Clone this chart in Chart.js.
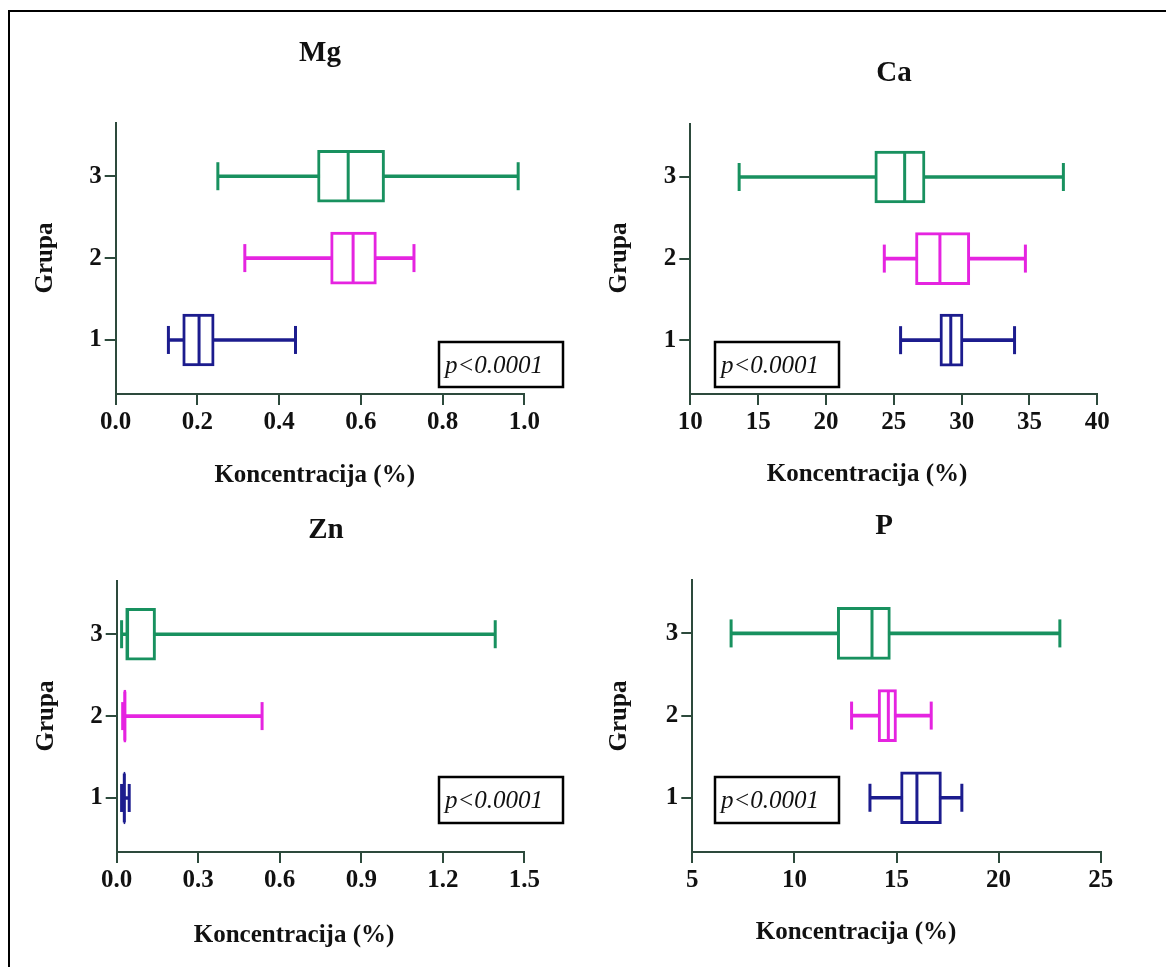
<!DOCTYPE html>
<html><head><meta charset="utf-8">
<script src="https://cdn.jsdelivr.net/npm/chart.js@4.4.0/dist/chart.umd.min.js"></script>
<style>
html,body{margin:0;padding:0;background:#fff;overflow:hidden;width:1166px;height:967px}
#frame{position:absolute;left:8px;top:10px;width:1300px;height:1100px;border-left:2.5px solid #000;border-top:2.5px solid #000}
canvas{position:absolute;left:0;top:0}
</style></head>
<body>
<div id="frame"></div>
<canvas id="c0" width="1166" height="967"></canvas>
<canvas id="c1" width="1166" height="967"></canvas>
<canvas id="c2" width="1166" height="967"></canvas>
<canvas id="c3" width="1166" height="967"></canvas>
<script>
// ---- data ----
const groups = [1, 2, 3];
const groupLabels = ['1', '2', '3'];

const mgMin = [0.129, 0.316, 0.250];
const mgQ1  = [0.164, 0.526, 0.494];
const mgMed = [0.204, 0.581, 0.569];
const mgQ3  = [0.241, 0.638, 0.658];
const mgMax = [0.440, 0.730, 0.985];
const mgTicks = [0, 0.2, 0.4, 0.6, 0.8, 1.0];
const mgTickLabels = ['0.0', '0.2', '0.4', '0.6', '0.8', '1.0'];

const caMin = [25.5, 24.3, 13.6];
const caQ1  = [28.4, 26.6, 23.6];
const caMed = [29.2, 28.4, 25.8];
const caQ3  = [30.1, 30.6, 27.3];
const caMax = [33.9, 34.7, 37.5];
const caTicks = [10, 15, 20, 25, 30, 35, 40];
const caTickLabels = ['10', '15', '20', '25', '30', '35', '40'];

const znMin = [0.018, 0.022, 0.018];
const znQ1  = [0.026, 0.026, 0.033];
const znMed = [0.028, 0.030, 0.040];
const znQ3  = [0.031, 0.034, 0.143];
const znMax = [0.046, 0.535, 1.393];
const znTicks = [0, 0.3, 0.6, 0.9, 1.2, 1.5];
const znTickLabels = ['0.0', '0.3', '0.6', '0.9', '1.2', '1.5'];

const pMin = [13.7, 12.8, 6.9];
const pQ1  = [15.2, 14.1, 12.1];
const pMed = [16.0, 14.6, 13.8];
const pQ3  = [17.2, 15.0, 14.7];
const pMax = [18.2, 16.7, 23.0];
const pTicks = [5, 10, 15, 20, 25];
const pTickLabels = ['5', '10', '15', '20', '25'];

const pValueText = 'p<0.0001';
const xTitleText = 'Koncentracija (%)';
const yTitleText = 'Grupa';

// ---- styles / layout ----
const W = 1166, H = 967;
const SERIF = '"Liberation Serif", "DejaVu Serif", serif';
const AXIS = '#2d4a3c';
const TXT = '#111';
const groupColors = ['#1c1c8e', '#e524e0', '#18915f'];
const BOX = 52, CAP = 14, LW = 3;

const panels = [
  {title:'Mg', min:mgMin, q1:mgQ1, med:mgMed, q3:mgQ3, max:mgMax, ticks:mgTicks, labels:mgTickLabels,
   area:{l:115.7, r:524.3, t:123, b:394}, titlePos:[320, 61], xTitlePos:[314.7, 482], yTitlePos:[46, 258], pBox:[439, 342, 124, 45]},
  {title:'Ca', min:caMin, q1:caQ1, med:caMed, q3:caQ3, max:caMax, ticks:caTicks, labels:caTickLabels,
   area:{l:690.3, r:1097.3, t:124, b:394}, titlePos:[894, 81], xTitlePos:[867, 481], yTitlePos:[620, 258], pBox:[715, 342, 124, 45]},
  {title:'Zn', min:znMin, q1:znQ1, med:znMed, q3:znQ3, max:znMax, ticks:znTicks, labels:znTickLabels,
   area:{l:116.7, r:524.3, t:581, b:852}, titlePos:[326, 538], xTitlePos:[294, 942], yTitlePos:[47, 716], pBox:[439, 777, 124, 46]},
  {title:'P', min:pMin, q1:pQ1, med:pMed, q3:pQ3, max:pMax, ticks:pTicks, labels:pTickLabels,
   area:{l:692.3, r:1100.7, t:580, b:852}, titlePos:[884, 534], xTitlePos:[856, 939], yTitlePos:[620, 716], pBox:[715, 777, 124, 46]}
];

function makeChart(canvas, p) {
  const AX = 60, XH = 60;
  const decor = {
    id: 'decor',
    afterDatasetsDraw(chart) {
      const ctx = chart.ctx, xs = chart.scales.x, ys = chart.scales.y;
      ctx.save();
      ctx.lineWidth = LW;
      ctx.lineCap = 'butt';
      groups.forEach((g, i) => {
        const yc = ys.getPixelForValue(g);
        ctx.strokeStyle = groupColors[i];
        [p.min[i], p.max[i]].forEach(v => {
          const x = xs.getPixelForValue(v);
          ctx.beginPath(); ctx.moveTo(x, yc - CAP); ctx.lineTo(x, yc + CAP); ctx.stroke();
        });
        const xm = xs.getPixelForValue(p.med[i]);
        ctx.beginPath(); ctx.moveTo(xm, yc - BOX / 2 + 1.5); ctx.lineTo(xm, yc + BOX / 2 - 1.5); ctx.stroke();
      });
      ctx.restore();
    },
    afterDraw(chart) {
      const ctx = chart.ctx;
      ctx.save();
      ctx.fillStyle = TXT;
      ctx.font = 'bold 29px ' + SERIF;
      ctx.textAlign = 'center'; ctx.textBaseline = 'alphabetic';
      ctx.fillText(p.title, p.titlePos[0], p.titlePos[1]);
      ctx.font = 'bold 25px ' + SERIF;
      ctx.fillText(xTitleText, p.xTitlePos[0], p.xTitlePos[1]);
      ctx.save();
      ctx.translate(p.yTitlePos[0], p.yTitlePos[1]);
      ctx.rotate(-Math.PI / 2);
      ctx.textBaseline = 'middle';
      ctx.fillText(yTitleText, 0, 0);
      ctx.restore();
      const [bx, by, bw, bh] = p.pBox;
      ctx.fillStyle = '#fff';
      ctx.fillRect(bx, by, bw, bh);
      ctx.strokeStyle = '#000'; ctx.lineWidth = 2.5;
      ctx.strokeRect(bx, by, bw, bh);
      ctx.fillStyle = TXT;
      ctx.font = 'italic 25px ' + SERIF;
      ctx.textAlign = 'left'; ctx.textBaseline = 'alphabetic';
      ctx.fillText(pValueText, bx + 6, by + bh / 2 + 8);
      ctx.restore();
    }
  };
  return new Chart(canvas, {
    type: 'bar',
    data: {
      datasets: [
        {label: 'box', data: groups.map((g, i) => ({y: g, x: [p.q1[i], p.q3[i]]})),
         backgroundColor: '#fff', borderColor: groupColors, borderWidth: LW, borderSkipped: false,
         barThickness: BOX, grouped: false, order: 0},
        {label: 'whisker', data: groups.map((g, i) => ({y: g, x: [p.min[i], p.max[i]]})),
         backgroundColor: groupColors, borderWidth: 0, barThickness: LW, grouped: false, order: 1}
      ]
    },
    options: {
      indexAxis: 'y', responsive: false, animation: false, devicePixelRatio: 1,
      layout: {padding: {left: p.area.l - AX, top: p.area.t, right: W - p.area.r, bottom: H - p.area.b - XH}},
      plugins: {legend: {display: false}, tooltip: {enabled: false}, title: {display: false}},
      scales: {
        x: {
          type: 'linear', position: 'bottom', offset: false, min: p.ticks[0], max: p.ticks[p.ticks.length - 1],
          afterBuildTicks: s => { s.ticks = p.ticks.map(v => ({value: v})); },
          afterFit: s => { s.height = XH; s.paddingLeft = 0; s.paddingRight = 0; },
          ticks: {callback: (v, i) => p.labels[i], font: {family: SERIF, size: 25, weight: 'bold'}, color: TXT, padding: 3, maxRotation: 0, autoSkip: false},
          grid: {display: true, offset: false, drawOnChartArea: false, drawTicks: true, tickLength: 11, color: AXIS, lineWidth: 2},
          border: {display: true, color: AXIS, width: 2}
        },
        y: {
          type: 'linear', position: 'left', offset: false, min: 0.34, max: 3.65,
          afterBuildTicks: s => { s.ticks = groups.map(v => ({value: v})); },
          afterFit: s => { s.width = AX; s.paddingTop = 0; s.paddingBottom = 0; },
          ticks: {callback: (v, i) => groupLabels[i], font: {family: SERIF, size: 25, weight: 'bold'}, color: TXT, padding: 3, autoSkip: false},
          grid: {display: true, offset: false, drawOnChartArea: false, drawTicks: true, tickLength: 11, color: AXIS, lineWidth: 2},
          border: {display: true, color: AXIS, width: 2}
        }
      }
    },
    plugins: [decor]
  });
}

panels.forEach((p, k) => makeChart(document.getElementById('c' + k), p));
</script>
</body></html>
